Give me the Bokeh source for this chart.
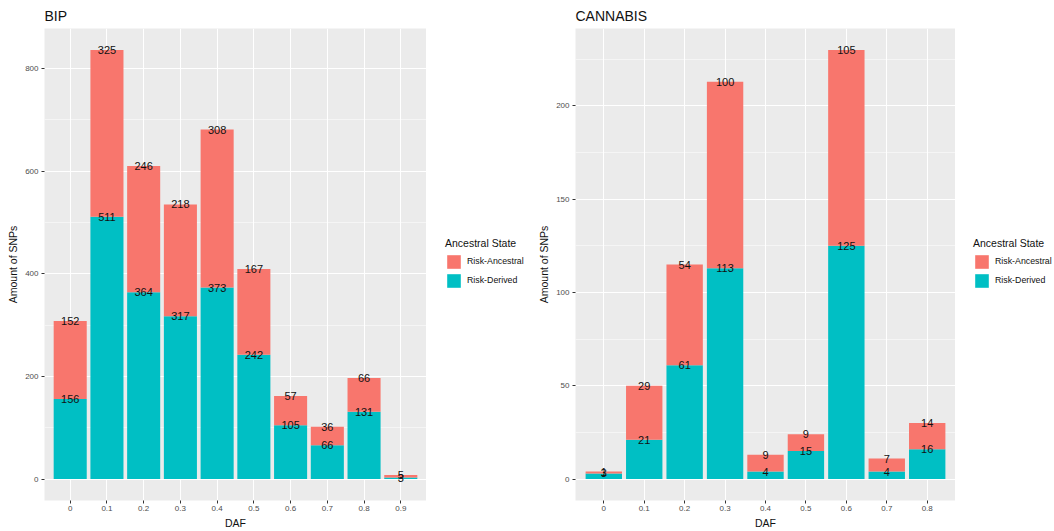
from bokeh.plotting import figure
from bokeh.models import (ColumnDataSource, FactorRange, Range1d, Legend, LegendItem,
                          SingleIntervalTicker)
from bokeh.layouts import row
from bokeh.embed import file_html
from bokeh.resources import INLINE
from bokeh.core.properties import value

# ---------------- data ----------------
bip_daf = ["0", "0.1", "0.2", "0.3", "0.4", "0.5", "0.6", "0.7", "0.8", "0.9"]
bip_derived = [156, 511, 364, 317, 373, 242, 105, 66, 131, 3]
bip_ancestral = [152, 325, 246, 218, 308, 167, 57, 36, 66, 5]

can_daf = ["0", "0.1", "0.2", "0.3", "0.4", "0.5", "0.6", "0.7", "0.8"]
can_derived = [3, 21, 61, 113, 4, 15, 125, 4, 16]
can_ancestral = [1, 29, 54, 100, 9, 9, 105, 7, 14]

legend_labels = ["Risk-Ancestral", "Risk-Derived"]
legend_title = "Ancestral State"
y_label = "Amount of SNPs"
x_label = "DAF"

# ---------------- style ----------------
ANC = "#F8766D"
DER = "#00BFC4"
FONT = "Liberation Sans"
PANEL_BG = "#EBEBEB"
FIG_H = 528
FRAME_H = 472


def make_panel(title, daf, derived, ancestral, interval, frame_w):
    totals = [d + a for d, a in zip(derived, ancestral)]
    ymax = max(totals)
    p = figure(
        x_range=FactorRange(factors=daf, range_padding=0.2, range_padding_units="absolute"),
        y_range=Range1d(-0.05 * ymax, 1.05 * ymax),
        frame_width=frame_w, frame_height=FRAME_H,
        min_border_left=44, min_border_right=0, min_border_top=0, min_border_bottom=0,
        output_backend="svg", toolbar_location=None,
    )
    src = ColumnDataSource(dict(daf=daf, derived=derived, ancestral=ancestral))
    p.vbar_stack(["derived", "ancestral"], x="daf", width=0.9,
                 color=[DER, ANC], line_color=None, source=src)

    lab = ColumnDataSource(dict(
        x=list(daf) + list(daf),
        y=list(derived) + totals,
        t=[str(v) for v in derived] + [str(v) for v in ancestral],
    ))
    p.text(x="x", y="y", text="t", source=lab, text_align="center", text_baseline="middle",
           text_font=value(FONT), text_font_size="11px", text_color="#111111")

    # panel look (ggplot grey theme)
    p.background_fill_color = PANEL_BG
    p.border_fill_color = "white"
    p.outline_line_color = None

    p.yaxis.ticker = SingleIntervalTicker(interval=interval, num_minor_ticks=2)
    p.xgrid.grid_line_color = "white"
    p.xgrid.grid_line_width = 1.1
    p.ygrid.grid_line_color = "white"
    p.ygrid.grid_line_width = 1.1
    p.ygrid.minor_grid_line_color = "white"
    p.ygrid.minor_grid_line_width = 0.5

    for ax in (p.xaxis, p.yaxis):
        ax.axis_line_color = None
        ax.major_tick_line_color = "#333333"
        ax.major_tick_in = 0
        ax.major_tick_out = 3
        ax.minor_tick_line_color = None
        ax.major_label_text_font = FONT
        ax.major_label_text_font_size = "8px"
        ax.major_label_text_color = "#4D4D4D"
        ax.major_label_standoff = 2
        ax.axis_label_text_font = FONT
        ax.axis_label_text_font_size = "10.5px"
        ax.axis_label_text_font_style = "normal"
        ax.axis_label_text_color = "#111111"
        ax.axis_label_standoff = 3
    p.xaxis.axis_label = x_label
    p.yaxis.axis_label = y_label

    p.title.text = title
    p.title.text_font = FONT
    p.title.text_font_size = "14px"
    p.title.text_font_style = "normal"
    p.title.text_color = "#111111"
    p.title.align = "left"
    return p, src


def make_legend(src, daf, width, gap):
    # legend-only figure: its bar renderers use the same data, have zero width
    # and lie outside the view, so only the legend swatches show
    lf = figure(width=width, height=FIG_H, title=None,
                x_range=FactorRange(factors=daf), y_range=Range1d(-2, -1),
                x_axis_type=None, y_axis_type=None, min_border=0,
                output_backend="svg", toolbar_location=None)
    lf.grid.visible = False
    lf.outline_line_color = None
    lf.background_fill_color = "white"
    lf.border_fill_color = "white"
    rs = lf.vbar_stack(["derived", "ancestral"], x="daf", width=0,
                       color=[DER, ANC], line_color=None, source=src)
    legend = Legend(
        items=[LegendItem(label=legend_labels[0], renderers=[rs[1]]),
               LegendItem(label=legend_labels[1], renderers=[rs[0]])],
        title=legend_title, location="center_left", orientation="vertical",
        border_line_color=None, background_fill_alpha=0,
        glyph_width=17, glyph_height=17, spacing=2, padding=0, margin=gap,
        label_standoff=5, label_text_font=FONT, label_text_font_size="8.8px",
        label_text_color="#111111",
        title_text_font=FONT, title_text_font_size="10.5px", title_text_font_style="normal",
        title_text_color="#111111", title_standoff=4,
    )
    lf.add_layout(legend, "center")
    return lf


p1, s1 = make_panel("BIP", bip_daf, bip_derived, bip_ancestral, 200, 382)
l1 = make_legend(s1, bip_daf, 105, 19)
p2, s2 = make_panel("CANNABIS", can_daf, can_derived, can_ancestral, 50, 380)
l2 = make_legend(s2, can_daf, 99, 18)

layout = row(p1, l1, p2, l2)
open("out.html", "w").write(file_html(layout, INLINE))
